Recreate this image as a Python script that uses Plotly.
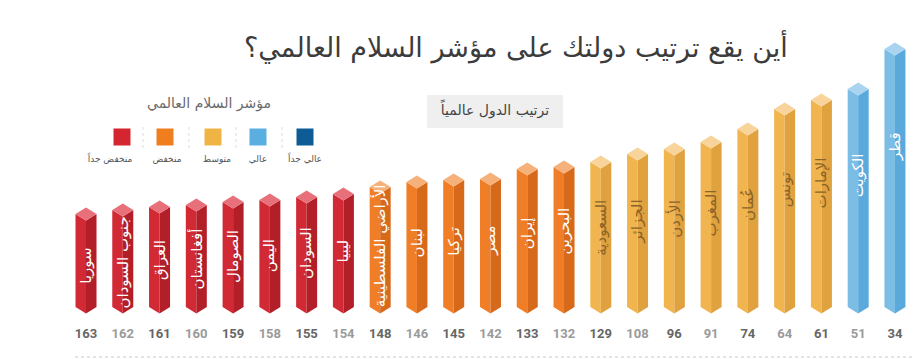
import plotly.graph_objects as go

# ---------------- data ----------------
countries = ["سوريا", "جنوب السودان", "العراق", "أفغانستان", "الصومال", "اليمن", "السودان", "ليبيا",
             "الأراضي الفلسطينية", "لبنان", "تركيا", "مصر", "إيران", "البحرين",
             "السعودية", "الجزائر", "الأردن", "المغرب", "عُمان", "تونس", "الإمارات",
             "الكويت", "قطر"]
ranks = [163, 162, 161, 160, 159, 158, 155, 154, 148, 146, 145, 142, 133, 132,
         129, 108, 96, 91, 74, 64, 61, 51, 34]
# visual bar heights (arbitrary units)
bar_heights = [93, 97, 100, 102, 105, 107, 110, 113, 120, 125, 127, 128, 138, 140,
               145, 153, 158, 165, 178, 198, 207, 218, 258]
levels = ["منخفض جداً"] * 8 + ["منخفض"] * 6 + ["متوسط"] * 7 + ["عالي"] * 2
legend_levels = ["منخفض جداً", "منخفض", "متوسط", "عالي", "عالي جداً"]

title_text = "أين يقع ترتيب دولتك على مؤشر السلام العالمي؟"
legend_title = "مؤشر السلام العالمي"
box_text = "ترتيب الدول عالمياً"

# ---------------- styles ----------------
W, H = 919, 359
AR = "DejaVu Sans, sans-serif"
palette = {  # (left face, right face, top, label colour, legend colour)
    "منخفض جداً": ("#d22a35", "#b21f29", "#e8707a", "#ffffff", "#d32630"),
    "منخفض": ("#f07e26", "#d7691b", "#f6b07a", "#ffffff", "#f07d1e"),
    "متوسط": ("#f1b54f", "#e0a13f", "#f8d39a", "#8a6428", "#f0b445"),
    "عالي": ("#7bbde4", "#5aa9dc", "#a9d4ef", "#ffffff", "#5aaee0"),
    "عالي جداً": ("#1a65a0", "#0f568c", "#4a88bb", "#ffffff", "#0d5c96"),
}

x_lo, x_hi = -2.339, 22.654          # x in category units
y_lo, y_hi = -52, 307                 # y in pixel-like units
w = 0.2856                            # half bar width (x units)
d = 6.5                               # iso depth (y units)


def px_to_x(px):
    return x_lo + px / W * (x_hi - x_lo)


def py_to_y(py):
    return y_hi - py / H * (y_hi - y_lo)


fig = go.Figure()

for lvl in ["منخفض جداً", "منخفض", "متوسط", "عالي"]:
    left_x, left_y, right_x, right_y, top_x, top_y = [], [], [], [], [], []
    for i, (h, l) in enumerate(zip(bar_heights, levels)):
        if l != lvl:
            continue
        left_x += [i - w, i - w, i, i, i - w, None]
        left_y += [0, h, h - d, -d, 0, None]
        right_x += [i, i, i + w, i + w, i, None]
        right_y += [-d, h - d, h, 0, -d, None]
        top_x += [i - w, i, i + w, i, i - w, None]
        top_y += [h, h + d, h, h - d, h, None]
    cl, cr, ct = palette[lvl][:3]
    for xs, ys, c in [(left_x, left_y, cl), (right_x, right_y, cr), (top_x, top_y, ct)]:
        fig.add_trace(go.Scatter(x=xs, y=ys, mode="lines", fill="toself", fillcolor=c,
                                 line=dict(width=0, color=c), hoverinfo="skip",
                                 showlegend=False))

# country names inside bars
for i, (name, h, l) in enumerate(zip(countries, bar_heights, levels)):
    yc = 0.7245 * h - 26.0
    fig.add_annotation(x=i, y=yc, xref="x", yref="y", text=name, textangle=-90,
                       showarrow=False, font=dict(family=AR, size=15, color=palette[l][3]))

# rank labels
rank_colors = ["#666666" if i % 2 == 0 else "#9a9a9a" for i in range(len(ranks))]
fig.add_trace(go.Scatter(x=list(range(len(ranks))), y=[-28] * len(ranks), mode="text",
                         text=[str(r) for r in ranks],
                         textfont=dict(family="Roboto, Arial, sans-serif", size=13,
                                       color=rank_colors, weight="bold"),
                         hoverinfo="skip", showlegend=False, cliponaxis=False))

# bottom dotted line
fig.add_shape(type="line", xref="paper", yref="y", x0=75 / W, x1=912 / W, y0=-50, y1=-50,
              line=dict(color="#c8c8c8", width=1, dash="dot"))

# title
fig.add_annotation(xref="paper", yref="paper", x=790 / W, y=1 - 46 / H, xanchor="right",
                   yanchor="middle", text=title_text, showarrow=False,
                   font=dict(family=AR, size=27, color="#3c3c3c"))

# box "ranking of countries"
fig.add_shape(type="rect", xref="paper", yref="paper", x0=427 / W, x1=563 / W,
              y0=1 - 128 / H, y1=1 - 95 / H, fillcolor="#efefef", line=dict(width=0),
              layer="below")

# horizontal Arabic labels (legend title, level names, box text) as text marks
lab_text = [box_text, legend_title] + legend_levels
lab_px = [495, 209, 110, 167, 217, 258, 305]
lab_py = [111, 104, 160, 160, 160, 160, 160]
lab_size = [14, 14, 9, 9, 9, 9, 9]
lab_col = ["#444444", "#6a6a6a"] + ["#555555"] * 5
fig.add_trace(go.Scatter(x=[px_to_x(p) for p in lab_px], y=[py_to_y(p) for p in lab_py],
                         mode="text", text=lab_text, textposition="middle center",
                         textfont=dict(family=AR, size=lab_size, color=lab_col),
                         hoverinfo="skip", showlegend=False, cliponaxis=False))

# legend squares and separators
sq_x = [122, 165, 213, 258, 305]
for cx, lvl in zip(sq_x, legend_levels):
    fig.add_shape(type="rect", xref="paper", yref="paper", x0=(cx - 8.5) / W,
                  x1=(cx + 8.5) / W, y0=1 - 145.5 / H, y1=1 - 128.5 / H,
                  fillcolor=palette[lvl][4], line=dict(width=0))
for sx in [143, 189, 236, 282]:
    fig.add_shape(type="line", xref="paper", yref="paper", x0=sx / W, x1=sx / W,
                  y0=1 - 148 / H, y1=1 - 126 / H,
                  line=dict(color="#dddddd", width=1, dash="dot"))

fig.update_layout(
    width=W, height=H, margin=dict(l=0, r=0, t=0, b=0),
    paper_bgcolor="white", plot_bgcolor="white",
    xaxis=dict(range=[x_lo, x_hi], visible=False, fixedrange=True),
    yaxis=dict(range=[y_lo, y_hi], visible=False, fixedrange=True),
    showlegend=False,
)

fig.write_html("out.html", config={"displayModeBar": False},
               post_script="document.body.style.margin='0px';")
